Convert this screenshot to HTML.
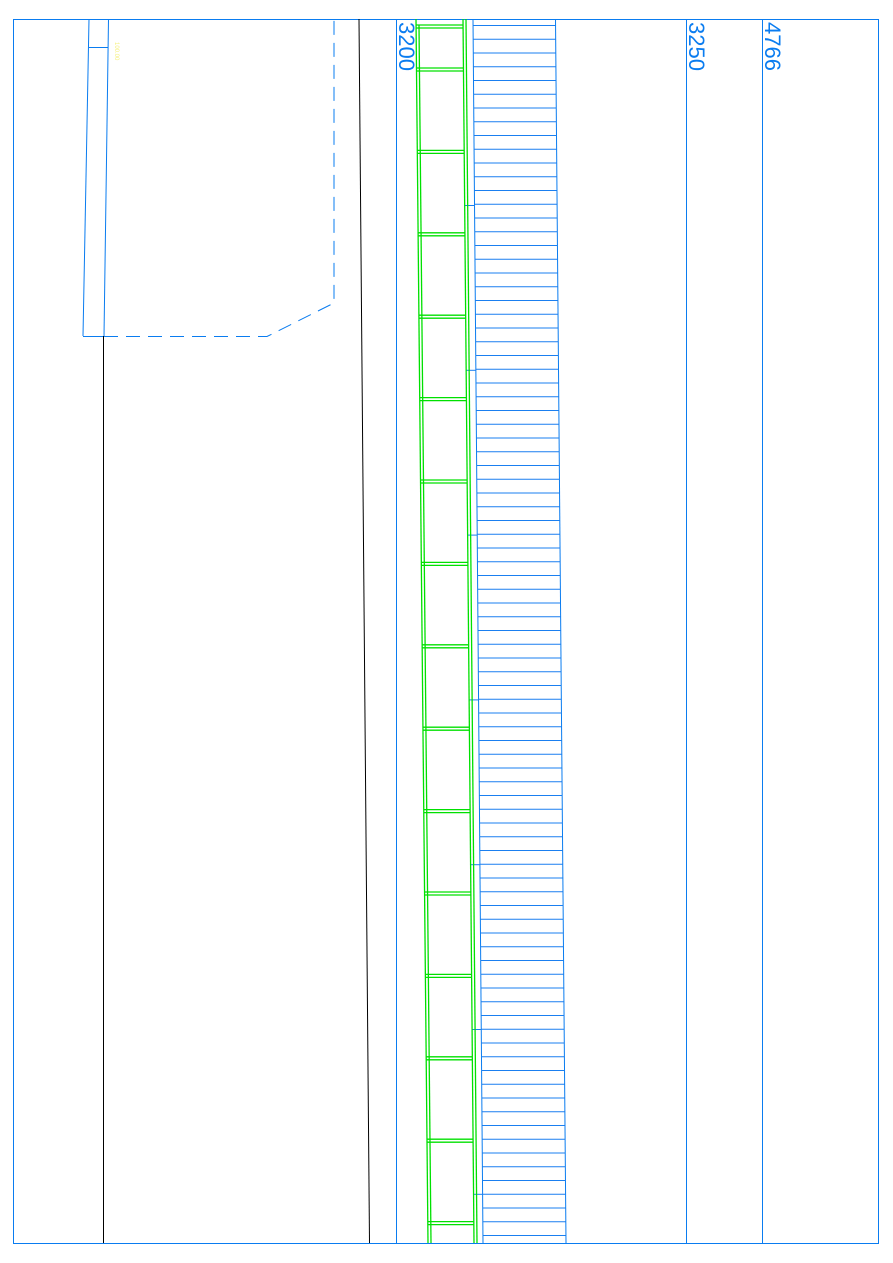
<!DOCTYPE html>
<html><head><meta charset="utf-8"><style>
html,body{margin:0;padding:0;background:#fff;width:893px;height:1263px;overflow:hidden}
svg{display:block}
text{font-family:"Liberation Sans",sans-serif;fill:#0a7cf0}
</style></head><body>
<svg id="s" width="893" height="1263" viewBox="0 0 893 1263" xmlns="http://www.w3.org/2000/svg">
<g fill="none" stroke="#0a7cf0" stroke-width="1">
<rect x="13.5" y="19.5" width="865" height="1224"/>
<line x1="396.5" y1="19" x2="396.5" y2="1243"/>
<line x1="686.5" y1="19" x2="686.5" y2="1243"/>
<line x1="762.5" y1="19" x2="762.5" y2="1243"/>
<line x1="89" y1="19" x2="83" y2="336"/>
<line x1="108.5" y1="19" x2="104" y2="336"/>
<line x1="89" y1="47.5" x2="108" y2="47.5"/>
<line x1="83" y1="336.5" x2="104" y2="336.5"/>
<path d="M104 336.5 H267 L334 303 V19" stroke-dasharray="14,8"/>
<line x1="473" y1="19" x2="483" y2="1243"/>
<line x1="555.5" y1="19" x2="566" y2="1243"/>
<g id="hatch" stroke="#1a7ff0"></g>
</g>
<line x1="103.5" y1="336" x2="103.5" y2="1243" stroke="#000"/>
<line x1="359" y1="19" x2="369.5" y2="1243" stroke="#000"/>
<g fill="none" stroke="#00e000" stroke-width="1.3">
<line x1="416" y1="19" x2="428" y2="1243"/>
<line x1="463" y1="19" x2="474" y2="1243"/>
<line x1="419" y1="25" x2="431" y2="1243"/>
<line x1="466" y1="19" x2="477" y2="1243"/>
<g id="cells"></g>
</g>
<text transform="translate(399,22) rotate(90)" font-size="22">3200</text>
<text transform="translate(689,22) rotate(90)" font-size="22">3250</text>
<text transform="translate(765,22) rotate(90)" font-size="22">4766</text>
<text transform="translate(115,42) rotate(90)" font-size="6" style="fill:#f5f07a">100.00</text>
</svg>
<script>
var ns="http://www.w3.org/2000/svg";
function L(g,x1,y1,x2,y2){var l=document.createElementNS(ns,"line");l.setAttribute("x1",x1);l.setAttribute("y1",y1);l.setAttribute("x2",x2);l.setAttribute("y2",y2);g.appendChild(l);}
function xa(x0,x1,y){return x0+(x1-x0)*(y-19)/1224;}
var h=document.getElementById("hatch");
for(var y=25.5;y<1243;y+=13.75){L(h,xa(473,483,y),y,xa(555.5,566,y),y);}
for(var i=0;i<7;i++){var y=205.5+i*164.8;L(h,xa(463,474,y),y,xa(473,483,y),y);}
var c=document.getElementById("cells");
var ys=[25];for(var k=0;k<15;k++)ys.push(68+k*82.4);
ys.forEach(function(y){L(c,xa(416,428,y),y,xa(463,474,y),y);L(c,xa(416,428,y+3),y+3,xa(463,474,y+3),y+3);});
</script>
</body></html>
